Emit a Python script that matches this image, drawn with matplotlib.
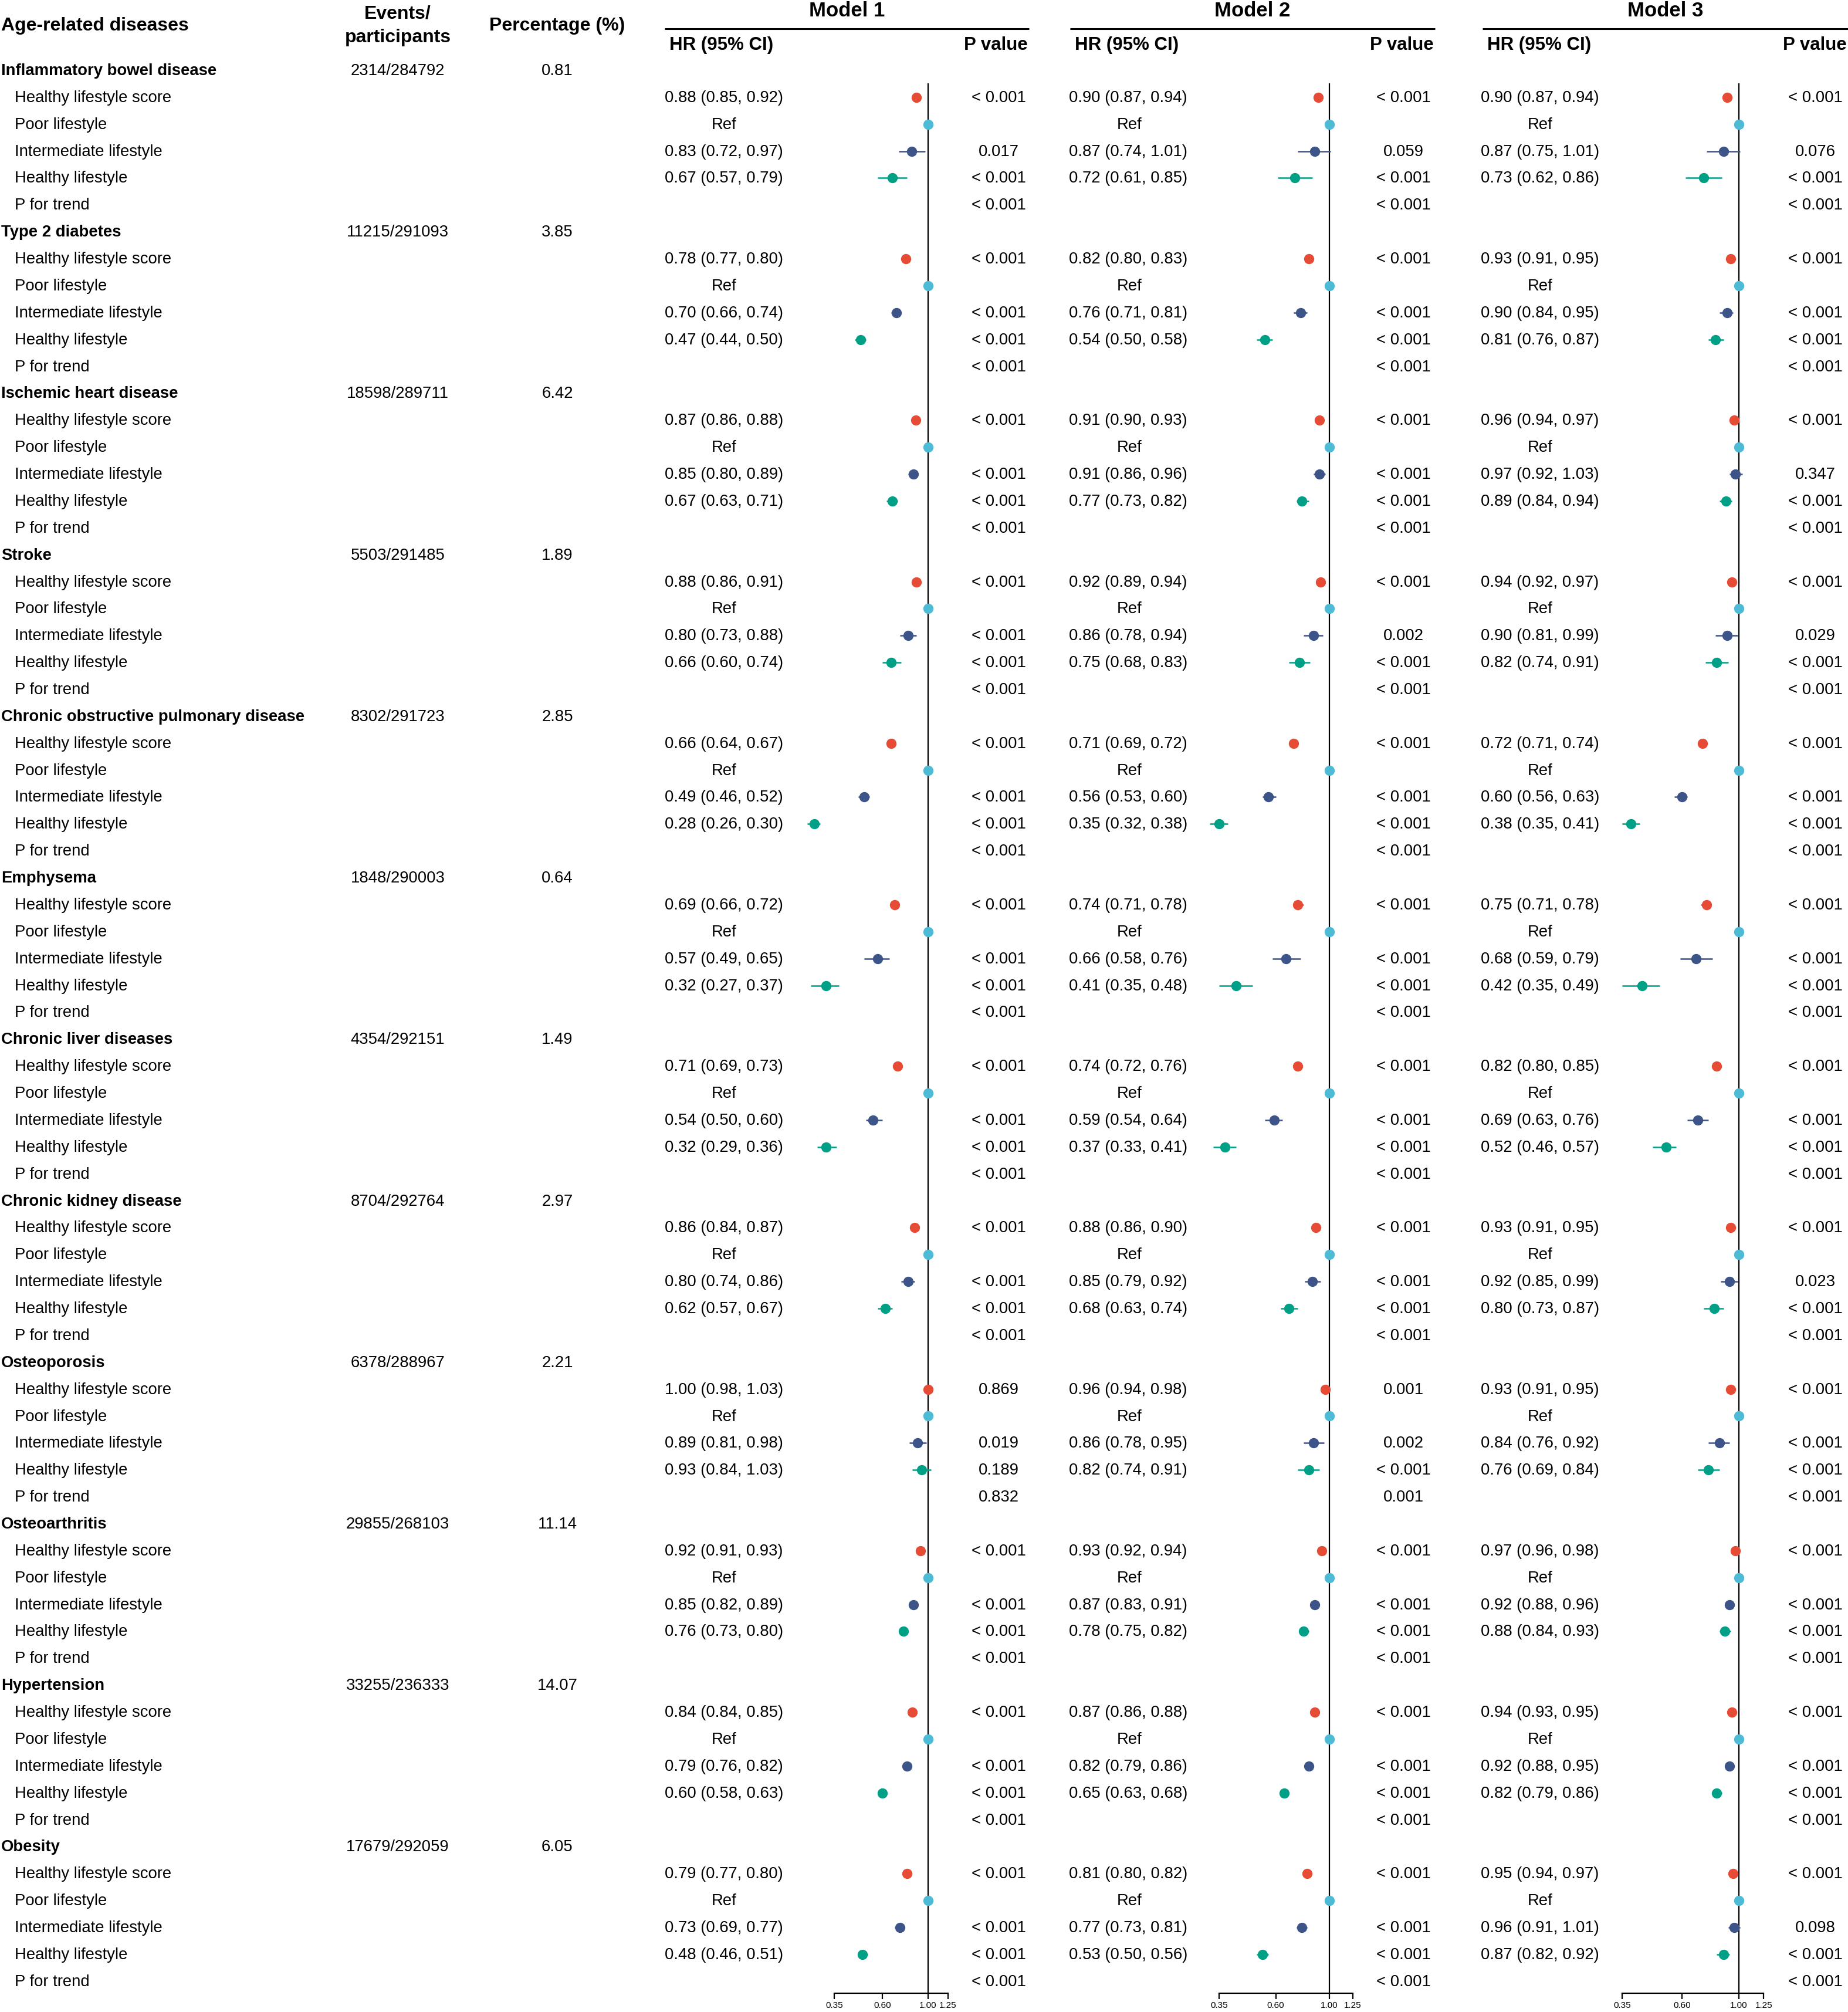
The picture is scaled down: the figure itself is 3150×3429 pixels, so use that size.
import numpy as np
import matplotlib
matplotlib.use("Agg")
import matplotlib.pyplot as plt

plt.rcParams['font.family'] = ['Liberation Sans', 'DejaVu Sans']

diseases = ["Inflammatory bowel disease", "Type 2 diabetes", "Ischemic heart disease", "Stroke",
            "Chronic obstructive pulmonary disease", "Emphysema", "Chronic liver diseases",
            "Chronic kidney disease", "Osteoporosis", "Osteoarthritis", "Hypertension", "Obesity"]
events = [2314, 11215, 18598, 5503, 8302, 1848, 4354, 8704, 6378, 29855, 33255, 17679]
participants = [284792, 291093, 289711, 291485, 291723, 290003, 292151, 292764, 288967, 268103, 236333, 292059]
percentage = [0.81, 3.85, 6.42, 1.89, 2.85, 0.64, 1.49, 2.97, 2.21, 11.14, 14.07, 6.05]

sub_labels = ["Healthy lifestyle score", "Poor lifestyle", "Intermediate lifestyle",
              "Healthy lifestyle", "P for trend"]

# HR, lower, upper
m1_score = [[0.88, 0.85, 0.92], [0.78, 0.77, 0.80], [0.87, 0.86, 0.88], [0.88, 0.86, 0.91],
            [0.66, 0.64, 0.67], [0.69, 0.66, 0.72], [0.71, 0.69, 0.73], [0.86, 0.84, 0.87],
            [1.00, 0.98, 1.03], [0.92, 0.91, 0.93], [0.84, 0.84, 0.85], [0.79, 0.77, 0.80]]
m1_inter = [[0.83, 0.72, 0.97], [0.70, 0.66, 0.74], [0.85, 0.80, 0.89], [0.80, 0.73, 0.88],
            [0.49, 0.46, 0.52], [0.57, 0.49, 0.65], [0.54, 0.50, 0.60], [0.80, 0.74, 0.86],
            [0.89, 0.81, 0.98], [0.85, 0.82, 0.89], [0.79, 0.76, 0.82], [0.73, 0.69, 0.77]]
m1_healthy = [[0.67, 0.57, 0.79], [0.47, 0.44, 0.50], [0.67, 0.63, 0.71], [0.66, 0.60, 0.74],
              [0.28, 0.26, 0.30], [0.32, 0.27, 0.37], [0.32, 0.29, 0.36], [0.62, 0.57, 0.67],
              [0.93, 0.84, 1.03], [0.76, 0.73, 0.80], [0.60, 0.58, 0.63], [0.48, 0.46, 0.51]]
m1_p = [["< 0.001", "0.017", "< 0.001", "< 0.001"]] + [["< 0.001"] * 4] * 7 + \
       [["0.869", "0.019", "0.189", "0.832"]] + [["< 0.001"] * 4] * 3

m2_score = [[0.90, 0.87, 0.94], [0.82, 0.80, 0.83], [0.91, 0.90, 0.93], [0.92, 0.89, 0.94],
            [0.71, 0.69, 0.72], [0.74, 0.71, 0.78], [0.74, 0.72, 0.76], [0.88, 0.86, 0.90],
            [0.96, 0.94, 0.98], [0.93, 0.92, 0.94], [0.87, 0.86, 0.88], [0.81, 0.80, 0.82]]
m2_inter = [[0.87, 0.74, 1.01], [0.76, 0.71, 0.81], [0.91, 0.86, 0.96], [0.86, 0.78, 0.94],
            [0.56, 0.53, 0.60], [0.66, 0.58, 0.76], [0.59, 0.54, 0.64], [0.85, 0.79, 0.92],
            [0.86, 0.78, 0.95], [0.87, 0.83, 0.91], [0.82, 0.79, 0.86], [0.77, 0.73, 0.81]]
m2_healthy = [[0.72, 0.61, 0.85], [0.54, 0.50, 0.58], [0.77, 0.73, 0.82], [0.75, 0.68, 0.83],
              [0.35, 0.32, 0.38], [0.41, 0.35, 0.48], [0.37, 0.33, 0.41], [0.68, 0.63, 0.74],
              [0.82, 0.74, 0.91], [0.78, 0.75, 0.82], [0.65, 0.63, 0.68], [0.53, 0.50, 0.56]]
m2_p = [["< 0.001", "0.059", "< 0.001", "< 0.001"], ["< 0.001"] * 4, ["< 0.001"] * 4,
        ["< 0.001", "0.002", "< 0.001", "< 0.001"]] + [["< 0.001"] * 4] * 4 + \
       [["0.001", "0.002", "< 0.001", "0.001"]] + [["< 0.001"] * 4] * 3

m3_score = [[0.90, 0.87, 0.94], [0.93, 0.91, 0.95], [0.96, 0.94, 0.97], [0.94, 0.92, 0.97],
            [0.72, 0.71, 0.74], [0.75, 0.71, 0.78], [0.82, 0.80, 0.85], [0.93, 0.91, 0.95],
            [0.93, 0.91, 0.95], [0.97, 0.96, 0.98], [0.94, 0.93, 0.95], [0.95, 0.94, 0.97]]
m3_inter = [[0.87, 0.75, 1.01], [0.90, 0.84, 0.95], [0.97, 0.92, 1.03], [0.90, 0.81, 0.99],
            [0.60, 0.56, 0.63], [0.68, 0.59, 0.79], [0.69, 0.63, 0.76], [0.92, 0.85, 0.99],
            [0.84, 0.76, 0.92], [0.92, 0.88, 0.96], [0.92, 0.88, 0.95], [0.96, 0.91, 1.01]]
m3_healthy = [[0.73, 0.62, 0.86], [0.81, 0.76, 0.87], [0.89, 0.84, 0.94], [0.82, 0.74, 0.91],
              [0.38, 0.35, 0.41], [0.42, 0.35, 0.49], [0.52, 0.46, 0.57], [0.80, 0.73, 0.87],
              [0.76, 0.69, 0.84], [0.88, 0.84, 0.93], [0.82, 0.79, 0.86], [0.87, 0.82, 0.92]]
m3_p = [["< 0.001", "0.076", "< 0.001", "< 0.001"], ["< 0.001"] * 4,
        ["< 0.001", "0.347", "< 0.001", "< 0.001"], ["< 0.001", "0.029", "< 0.001", "< 0.001"],
        ["< 0.001"] * 4, ["< 0.001"] * 4, ["< 0.001"] * 4,
        ["< 0.001", "0.023", "< 0.001", "< 0.001"], ["< 0.001"] * 4, ["< 0.001"] * 4,
        ["< 0.001"] * 4, ["< 0.001", "0.098", "< 0.001", "< 0.001"]]

model_names = ["Model 1", "Model 2", "Model 3"]
models = [(m1_score, m1_inter, m1_healthy, m1_p),
          (m2_score, m2_inter, m2_healthy, m2_p),
          (m3_score, m3_inter, m3_healthy, m3_p)]
ticks = [0.35, 0.60, 1.00, 1.25]

c_score, c_ref, c_inter, c_healthy = "#E64B35", "#4DBBD5", "#3C5488", "#00A087"

# layout (pixels)
W, H = 3150, 3429
y0, dy = 120, 45.87
ax_top, ax_bot = 142, 3397
hr_x = [1133, 1822, 2524]
ref_x = [1234, 1925, 2625]
p_x = [1702, 2392, 3094]
line_x = [(1133, 1754), (1824, 2446), (2527, 3150)]
one_x = [1582, 2266, 2964]
scale_k = [152.7, 178.8, 189.8]
fx = [(1360, 1640), (2040, 2330), (2740, 3030)]
toff = 1.0  # text nudge so glyphs sit on the row centre

fig = plt.figure(figsize=(W / 100, H / 100), dpi=100)
tax = fig.add_axes([0, 0, 1, 1])
tax.set_xlim(0, W)
tax.set_ylim(H, 0)
tax.axis('off')

def ry(i):
    return y0 + dy * i + toff

fs = 19.8
tax.text(2, 44, "Age-related diseases", fontsize=23, fontweight='bold', va='center', ha='left')
tax.text(678, 24, "Events/", fontsize=23, fontweight='bold', va='center', ha='center')
tax.text(678, 64, "participants", fontsize=23, fontweight='bold', va='center', ha='center')
tax.text(950, 44, "Percentage (%)", fontsize=23, fontweight='bold', va='center', ha='center')

for m in range(3):
    l, r = line_x[m]
    tax.text((l + r) / 2, 18, model_names[m], fontsize=25, fontweight='bold', va='center', ha='center')
    tax.plot([l, r], [49, 49], color='black', lw=2.2, solid_capstyle='butt')
    tax.text(l + 8, 77, "HR (95% CI)", fontsize=22.5, fontweight='bold', va='center', ha='left')
    tax.text(r - 2, 77, "P value", fontsize=22.5, fontweight='bold', va='center', ha='right')

for d, name in enumerate(diseases):
    base = 6 * d
    tax.text(2, ry(base), name, fontsize=fs, fontweight='bold', va='center', ha='left')
    tax.text(678, ry(base), f"{events[d]}/{participants[d]}", fontsize=fs, va='center', ha='center')
    tax.text(950, ry(base), f"{percentage[d]:.2f}", fontsize=fs, va='center', ha='center')
    for j, lab in enumerate(sub_labels):
        tax.text(25, ry(base + 1 + j), lab, fontsize=fs, va='center', ha='left')
    for m, (sc, it, hl, pv) in enumerate(models):
        for j, vals in zip([1, 3, 4], [sc[d], it[d], hl[d]]):
            tax.text(hr_x[m], ry(base + j), f"{vals[0]:.2f} ({vals[1]:.2f}, {vals[2]:.2f})",
                     fontsize=fs, va='center', ha='left')
        tax.text(ref_x[m], ry(base + 2), "Ref", fontsize=fs, va='center', ha='center')
        for j, p in zip([1, 3, 4, 5], pv[d]):
            tax.text(p_x[m], ry(base + j), p, fontsize=fs, va='center', ha='center')

rows = np.arange(len(diseases)) * 6
for m, (sc, it, hl, pv) in enumerate(models):
    left, right = fx[m]
    ax = fig.add_axes([left / W, 1 - ax_bot / H, (right - left) / W, (ax_bot - ax_top) / H])
    ax.set_facecolor('none')
    ax.set_xscale('log')
    ax.set_xlim(np.exp((left - one_x[m]) / scale_k[m]), np.exp((right - one_x[m]) / scale_k[m]))
    ax.set_ylim((ax_bot - y0) / dy, (ax_top - y0) / dy)
    ax.axvline(1.0, color='black', lw=1.6, zorder=1)
    for arr, off, col in [(sc, 1, c_score), (it, 3, c_inter), (hl, 4, c_healthy)]:
        a = np.array(arr)
        ax.errorbar(a[:, 0], rows + off, xerr=[a[:, 0] - a[:, 1], a[:, 2] - a[:, 0]],
                    fmt='o', color=col, ms=11.5, elinewidth=1.8, capsize=0, zorder=3)
    ax.plot(np.ones(len(rows)), rows + 2, 'o', color=c_ref, ms=11.5, zorder=3)
    for s in ['left', 'right', 'top']:
        ax.spines[s].set_visible(False)
    ax.spines['bottom'].set_bounds(ticks[0], ticks[-1])
    ax.spines['bottom'].set_linewidth(1.6)
    ax.set_yticks([])
    ax.xaxis.set_minor_locator(matplotlib.ticker.NullLocator())
    ax.set_xticks(ticks)
    ax.set_xticklabels([f"{t:.2f}" for t in ticks])
    ax.tick_params(axis='x', length=7.2, width=1.6, labelsize=11, pad=3)

fig.savefig("out.png", dpi=100)
